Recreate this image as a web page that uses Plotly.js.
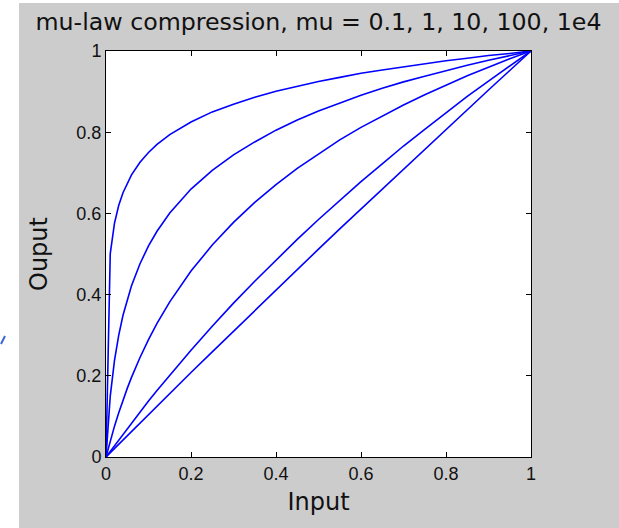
<!DOCTYPE html>
<html>
<head>
<meta charset="utf-8">
<script src="https://cdn.plot.ly/plotly-3.0.1.min.js"></script>
<style>
html,body{margin:0;padding:0;background:#ffffff;}
#plot{width:619px;height:528px;}
</style>
</head>
<body>
<div id="plot"></div>
<script>
// Input values (x) read along the horizontal axis
const inputX = [0, 0.01, 0.02, 0.03, 0.04, 0.05, 0.06, 0.08, 0.1, 0.12, 0.15, 0.2, 0.25, 0.3, 0.35, 0.4, 0.45, 0.5, 0.55, 0.6, 0.65, 0.7, 0.75, 0.8, 0.85, 0.9, 0.95, 1];

// Output values for each mu curve (read/estimated from the picture)
const outMu0_1 = [0, 0.0105, 0.021, 0.031, 0.042, 0.052, 0.063, 0.084, 0.104, 0.125, 0.156, 0.208, 0.259, 0.310, 0.361, 0.411, 0.462, 0.512, 0.562, 0.611, 0.661, 0.710, 0.759, 0.807, 0.856, 0.904, 0.952, 1];
const outMu1 = [0, 0.014, 0.029, 0.043, 0.057, 0.070, 0.084, 0.111, 0.138, 0.164, 0.202, 0.263, 0.322, 0.379, 0.433, 0.485, 0.536, 0.585, 0.632, 0.678, 0.722, 0.766, 0.807, 0.848, 0.888, 0.926, 0.963, 1];
const outMu10 = [0, 0.040, 0.076, 0.109, 0.140, 0.169, 0.196, 0.245, 0.289, 0.329, 0.382, 0.458, 0.522, 0.578, 0.627, 0.671, 0.711, 0.747, 0.781, 0.812, 0.840, 0.867, 0.892, 0.916, 0.939, 0.960, 0.981, 1];
const outMu100 = [0, 0.150, 0.238, 0.300, 0.349, 0.388, 0.422, 0.476, 0.520, 0.556, 0.601, 0.660, 0.706, 0.744, 0.776, 0.805, 0.830, 0.852, 0.872, 0.891, 0.908, 0.924, 0.938, 0.952, 0.965, 0.977, 0.989, 1];
const outMu1e4 = [0, 0.501, 0.576, 0.620, 0.651, 0.675, 0.695, 0.726, 0.750, 0.770, 0.794, 0.825, 0.850, 0.869, 0.886, 0.901, 0.913, 0.925, 0.935, 0.945, 0.953, 0.961, 0.969, 0.976, 0.982, 0.989, 0.994, 1];

const seriesNames = ['mu = 0.1', 'mu = 1', 'mu = 10', 'mu = 100', 'mu = 1e4'];
const seriesValues = [outMu0_1, outMu1, outMu10, outMu100, outMu1e4];

const tickVals = [0, 0.2, 0.4, 0.6, 0.8, 1];
const tickText = ['0', '0.2', '0.4', '0.6', '0.8', '1'];

const titleText = 'mu-law compression, mu = 0.1, 1, 10, 100, 1e4';
const xTitle = 'Input';
const yTitle = 'Ouput';

const traces = seriesValues.map((vals, i) => ({
  type: 'scatter',
  mode: 'lines',
  name: seriesNames[i],
  x: inputX,
  y: vals,
  line: {color: '#0000ff', width: 1.6},
  hoverinfo: 'skip'
}));

// pixel helpers for decorations (plot area: x 106..531, y 51..457)
const L = 106, R = 88, T = 51, B = 71, W = 619, H = 528;
const pw = W - L - R, ph = H - T - B;
const px = v => (v - L) / pw;
const py = v => (H - B - v) / ph;

const axisCommon = {
  range: [0, 1],
  tickvals: tickVals,
  ticktext: tickText,
  ticks: 'inside',
  ticklen: 5,
  tickwidth: 1,
  tickcolor: '#000000',
  showline: true,
  linecolor: '#000000',
  linewidth: 1,
  mirror: 'ticks',
  showgrid: false,
  zeroline: false,
  tickfont: {family: 'Liberation Sans, Arial, sans-serif', size: 18, color: '#111111'},
  fixedrange: true
};

const layout = {
  width: W,
  height: H,
  margin: {l: L, r: R, t: T, b: B, pad: 0},
  paper_bgcolor: '#ffffff',
  plot_bgcolor: '#ffffff',
  showlegend: false,
  title: {
    text: titleText,
    font: {family: 'DejaVu Sans', size: 23.7, color: '#111111'},
    xref: 'paper', x: 0.5, xanchor: 'center',
    yref: 'container', y: 1 - 22 / H, yanchor: 'middle'
  },
  xaxis: Object.assign({}, axisCommon, {
    title: {text: xTitle, font: {family: 'DejaVu Sans', size: 24, color: '#111111'}, standoff: 10}
  }),
  yaxis: Object.assign({}, axisCommon, {
    title: {text: yTitle, font: {family: 'DejaVu Sans', size: 24, color: '#111111'}, standoff: 21}
  }),
  shapes: [
    {type: 'rect', xref: 'paper', yref: 'paper', layer: 'below',
     x0: px(19), x1: px(619), y0: py(528), y1: py(3),
     fillcolor: '#cccccc', line: {width: 0}},
    {type: 'rect', xref: 'paper', yref: 'paper', layer: 'below',
     x0: 0, x1: 1, y0: 0, y1: 1,
     fillcolor: '#ffffff', line: {width: 0}},
    {type: 'line', xref: 'paper', yref: 'paper',
     x0: px(1), y0: py(344), x1: px(5), y1: py(336),
     line: {color: '#3a66d8', width: 2}}
  ]
};

Plotly.newPlot('plot', traces, layout, {displayModeBar: false, staticPlot: true});
</script>
</body>
</html>
